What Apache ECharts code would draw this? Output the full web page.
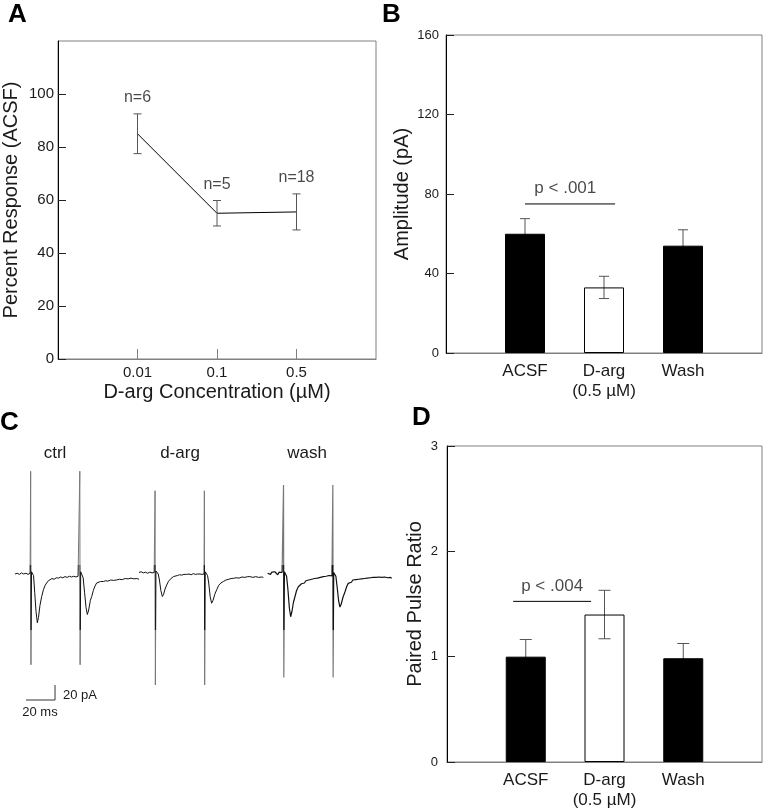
<!DOCTYPE html>
<html>
<head>
<meta charset="utf-8">
<script src="https://cdn.jsdelivr.net/npm/echarts@6/dist/echarts.min.js"></script>
<style>
  html, body { margin: 0; padding: 0; background: #fff; }
  #chart { width: 765px; height: 810px; }
</style>
</head>
<body>
<div id="chart"></div>
<script>
// ---------- Panel A: dose response ----------
const aConcLabels = ['0.01', '0.1', '0.5'];
const aPos = [1, 2, 3];
const aMean = [85, 55, 55.5];
const aErr = [7.5, 4.8, 6.8];
const aN = ['n=6', 'n=5', 'n=18'];
const aYTicks = [0, 20, 40, 60, 80, 100];

// ---------- Panel B: amplitude ----------
const condLabels = ['ACSF', 'D-arg\n(0.5 µM)', 'Wash'];
const condPos = [1, 2, 3];
const bMean = [60, 33, 54];
const bErr = [7.6, 5.6, 8];

// ---------- Panel D: paired pulse ratio ----------
const dMean = [1.0, 1.40, 0.985];
const dErr = [0.163, 0.23, 0.14];

// significance annotations [x1, x2, y]
const bSig = [1, 2.14, 75];
const dSig = [0.84, 1.83, 1.525];

// ---------- Panel C: example traces, [time ms, current pA] ----------
const traceCtrl = [[0,0],[1.5,1],[3,-0.5],[4.5,1.5],[6,0],[7.5,1],[9,-0.5],[10.4,1],
[10.8,137],[11.0,-121],[11.4,3],[12.2,4],[12.8,-2],[13.6,-25],[14.5,-50],[15.4,-65],[16.2,-58],[17.2,-42],[18.4,-30],[19.6,-21],[20.8,-15],[21.8,-12],[23,-9],[24.1,-8],[25.5,-6],[27,-7],[28.5,-5],[30,-5.5],[31.5,-4],[33,-5],[34.5,-3.5],[36,-4.5],[37.5,-3],[39,-4],[40.5,-3],[42,-4],[43.5,-3],[44.4,-3.5],
[44.7,137],[44.9,-121],[45.3,3],[46.2,4],[47,-5],[48,-25],[49,-45],[49.9,-54],[50.8,-48],[52,-35],[52.9,-30],[54,-22],[55.2,-16],[56.3,-12],[57.5,-12.5],[59,-10],[60.9,-10],[62.5,-9],[64,-9.5],[66,-8],[68,-8.5],[70,-8],[72,-7],[74,-7.5],[76,-6],[78,-6.5],[80,-5.5],[82,-6.5],[84,-6],[85.5,-7]];

const traceDarg = [[85.5,2],[87,3],[88.5,1.5],[90,2.5],[91.5,1],[93,2.5],[94.5,1.5],[96,2],[96.4,2],
[96.6,111],[96.8,-148],[97.2,4],[98,5],[98.8,0],[99.6,-8],[100.6,-22],[101.6,-30],[102.5,-27],[103.5,-20],[104.6,-14.7],[105.8,-10],[107,-7],[108.2,-5],[109.2,-3.5],[110.5,-2.5],[112,-2],[113.5,-1],[115,-1.5],[116.5,-0.5],[118.4,-0.5],[120,0],[121.5,-1],[123,0.5],[124.5,-0.5],[126,0],[127.6,0],[129,-0.5],[130.4,0],
[130.6,111],[130.8,-148],[131.2,3],[132,4],[132.8,-2],[133.6,-12],[134.6,-30],[135.6,-39],[136.6,-35],[137.8,-27],[139.1,-21],[140.5,-15],[142,-12],[143.7,-10],[145.5,-8],[147.5,-7],[149,-6],[150.6,-5.8],[152.5,-5],[154.5,-5.5],[156.5,-4],[158.5,-4.5],[160.5,-3.5],[162,-3.5],[164,-4.5],[166,-3.5],[168,-4.5],[170,-4],[171.3,-4.4]];

const traceWash = [[174.2,1],[175.2,3],[176.2,-0.5],[177.2,2.5],[178.2,0],[179.2,3],[180.2,1],[181.2,-1],[182.2,2.5],[183.2,0.5],[184.2,2],[185.0,0],
[185.2,118.7],[185.4,-138],[185.8,3],[186.6,4],[187.3,-3],[188.2,-20],[189.2,-45],[190.1,-57],[191,-50],[192,-38],[193.1,-30],[194.2,-22],[195.4,-17],[196.6,-14.7],[197.6,-13],[198.6,-11.5],[199.6,-12],[200.6,-9],[201.6,-11],[202.6,-8],[203.6,-10],[204.6,-7],[205.6,-9],[206.6,-6],[207.6,-8],[208.6,-5.5],[209.6,-7.5],[210.6,-4.5],[211.6,-6.5],[212.6,-3.5],[213.6,-5.5],[214.6,-3],[215.6,-5],[216.6,-2],[217.6,-4.5],[218.6,-2.5],[219.0,-3],
[219.2,118.7],[219.4,-138],[219.8,2],[220.6,3],[221.3,-3],[222.2,-18],[223.2,-36],[224.1,-44],[225,-40],[226.2,-31],[227.6,-23.6],[228.7,-17],[229.8,-12.5],[231,-10],[232,-11],[233,-8],[234,-10],[235,-7.5],[236,-9.5],[237,-7],[238,-9],[239,-6.5],[240,-8.5],[241,-6],[242,-8],[243,-5.5],[244,-7.5],[245,-5],[246,-7],[247,-4.5],[248,-6.5],[249,-4.5],[250,-7],[251,-4],[252,-6.5],[253,-4.5],[254,-7],[255,-4],[256,-6.5],[257,-5],[258,-7],[259,-4.5],[259.8,-5.8]];

// scale bar: 20 ms horizontal, 20 pA vertical
const scaleBar = [[7.6,-168],[27.6,-168],[27.6,-148]];

// ---------- helpers ----------
const FONT = "'Liberation Sans', Arial, Helvetica, sans-serif";
const TXT = '#1a1a1a';
const BOX = '#808080';

function errRender(cap, color) {
  return function (params, api) {
    const x = api.value(0), m = api.value(1), e = api.value(2);
    const t = api.coord([x, m + e]);
    const b = api.coord([x, m - e]);
    const st = { stroke: color, lineWidth: 1 };
    return {
      type: 'group',
      children: [
        { type: 'line', shape: { x1: t[0], y1: t[1], x2: b[0], y2: b[1] }, style: st },
        { type: 'line', shape: { x1: t[0] - cap, y1: t[1], x2: t[0] + cap, y2: t[1] }, style: st },
        { type: 'line', shape: { x1: b[0] - cap, y1: b[1], x2: b[0] + cap, y2: b[1] }, style: st }
      ]
    };
  };
}

function barData(means) {
  return means.map((v, i) => ({
    value: [condPos[i], v],
    itemStyle: i === 1
      ? { color: 'rgba(255,255,255,0)', borderColor: '#000', borderWidth: 1 }
      : { color: '#000', borderColor: '#000', borderWidth: 1 }
  }));
}

function yAxisBase(idx, min, max, interval, name, nameGap, labelSize, margin, hideTop) {
  return {
    gridIndex: idx, type: 'value', min: min, max: max, interval: interval,
    axisLine: { show: true, lineStyle: { color: '#000', width: 1 } },
    axisTick: { show: true, inside: true, length: 8, lineStyle: { color: '#222' } },
    axisLabel: {
      fontSize: labelSize, color: TXT, fontFamily: FONT, margin: margin,
      formatter: v => (hideTop && v === max) ? '' : String(v)
    },
    splitLine: { show: false },
    name: name, nameLocation: 'middle', nameGap: nameGap,
    nameTextStyle: { fontSize: 20, color: TXT, fontFamily: FONT }
  };
}

function condXAxis(idx) {
  return {
    gridIndex: idx, type: 'value', min: 0, max: 4,
    axisLine: { show: true, lineStyle: { color: BOX } },
    axisTick: { show: false },
    axisLabel: {
      customValues: condPos,
      formatter: v => condLabels[condPos.indexOf(v)] || '',
      fontSize: 17, lineHeight: 20, color: TXT, fontFamily: FONT, margin: 8
    },
    splitLine: { show: false }
  };
}

const chart = echarts.init(document.getElementById('chart'), null, { renderer: 'canvas' });

const yA = yAxisBase(0, 0, 120, 20, 'Percent Response (ACSF)', 37, 15, 4, true);
yA.axisTick.customValues = aYTicks;
yA.axisLabel.customValues = aYTicks;

const option = {
  backgroundColor: '#fff',
  animation: false,
  textStyle: { fontFamily: FONT },
  visualMap: {
    type: 'piecewise', show: false, dimension: 1, seriesIndex: [7, 8, 9],
    pieces: [
      { gt: 12, color: '#777' },
      { lt: -75, color: '#777' },
      { gte: -75, lte: 12, color: '#111' }
    ]
  },
  grid: [
    { left: 58, top: 41, width: 318, height: 318, show: true, borderColor: BOX, borderWidth: 1, backgroundColor: 'transparent' },
    { left: 446, top: 35, width: 316, height: 318, show: true, borderColor: BOX, borderWidth: 1, backgroundColor: 'transparent' },
    { left: 15, top: 461.5, width: 377, height: 262.5, show: false },
    { left: 447, top: 446, width: 315, height: 317, show: true, borderColor: BOX, borderWidth: 1, backgroundColor: 'transparent' }
  ],
  xAxis: [
    {
      gridIndex: 0, type: 'value', min: 0, max: 4,
      axisLine: { show: true, lineStyle: { color: BOX } },
      axisTick: { show: true, inside: true, length: 10, customValues: aPos, lineStyle: { color: BOX } },
      axisLabel: {
        customValues: aPos,
        formatter: v => aConcLabels[aPos.indexOf(v)] || '',
        fontSize: 15, color: TXT, fontFamily: FONT, margin: 6
      },
      splitLine: { show: false },
      name: 'D-arg Concentration (µM)', nameLocation: 'middle', nameGap: 23,
      nameTextStyle: { fontSize: 20, color: TXT, fontFamily: FONT }
    },
    condXAxis(1),
    { gridIndex: 2, type: 'value', min: 0, max: 260, show: false },
    condXAxis(3)
  ],
  yAxis: [
    yA,
    yAxisBase(1, 0, 160, 40, 'Amplitude (pA)', 34, 13, 7, false),
    { gridIndex: 2, type: 'value', min: -200, max: 150, show: false },
    yAxisBase(3, 0, 3, 1, 'Paired Pulse Ratio', 22, 13, 9, false)
  ],
  graphic: [
    { type: 'text', left: 8, top: 2, style: { text: 'A', fontSize: 26, fontWeight: 'bold', fill: '#000', fontFamily: FONT } },
    { type: 'text', left: 382, top: 2, style: { text: 'B', fontSize: 26, fontWeight: 'bold', fill: '#000', fontFamily: FONT } },
    { type: 'text', left: 0, top: 410, style: { text: 'C', fontSize: 26, fontWeight: 'bold', fill: '#000', fontFamily: FONT } },
    { type: 'text', left: 412, top: 405, style: { text: 'D', fontSize: 26, fontWeight: 'bold', fill: '#000', fontFamily: FONT } },
    { type: 'text', x: 55, y: 453, style: { text: 'ctrl', fontSize: 17, fill: TXT, fontFamily: FONT, align: 'center', verticalAlign: 'middle' } },
    { type: 'text', x: 180, y: 453, style: { text: 'd-arg', fontSize: 17, fill: TXT, fontFamily: FONT, align: 'center', verticalAlign: 'middle' } },
    { type: 'text', x: 307, y: 453, style: { text: 'wash', fontSize: 17, fill: TXT, fontFamily: FONT, align: 'center', verticalAlign: 'middle' } },
    { type: 'text', x: 63, y: 695, style: { text: '20 pA', fontSize: 13, fill: TXT, fontFamily: FONT, align: 'left', verticalAlign: 'middle' } },
    { type: 'text', x: 40, y: 712, style: { text: '20 ms', fontSize: 13, fill: TXT, fontFamily: FONT, align: 'center', verticalAlign: 'middle' } }
  ],
  series: [
    // Panel A (0-2)
    {
      type: 'line', xAxisIndex: 0, yAxisIndex: 0, symbol: 'none',
      data: aPos.map((x, i) => [x, aMean[i]]),
      lineStyle: { color: '#000', width: 1 }, z: 3
    },
    {
      type: 'custom', xAxisIndex: 0, yAxisIndex: 0,
      renderItem: errRender(4, '#555'),
      data: aPos.map((x, i) => [x, aMean[i], aErr[i]]), z: 4
    },
    {
      type: 'scatter', xAxisIndex: 0, yAxisIndex: 0, symbolSize: 0,
      data: aPos.map((x, i) => [x, aMean[i] + aErr[i]]),
      label: {
        show: true, position: 'top', distance: 8, fontSize: 16, color: TXT, fontFamily: FONT,
        formatter: p => aN[p.dataIndex]
      }
    },
    // Panel B (3-6)
    {
      type: 'custom', xAxisIndex: 1, yAxisIndex: 1,
      renderItem: errRender(5, '#555'),
      data: condPos.map((x, i) => [x, bMean[i], bErr[i]]), z: 1
    },
    {
      type: 'bar', xAxisIndex: 1, yAxisIndex: 1, barWidth: 40,
      data: barData(bMean), z: 3
    },
    {
      type: 'line', xAxisIndex: 1, yAxisIndex: 1, symbol: 'none',
      data: [[bSig[0], bSig[2]], [bSig[1], bSig[2]]],
      lineStyle: { color: '#000', width: 1 }
    },
    {
      type: 'scatter', xAxisIndex: 1, yAxisIndex: 1, symbolSize: 0,
      data: [[(bSig[0] + bSig[1]) / 2 - 0.06, bSig[2]]],
      label: { show: true, position: 'top', distance: 7, formatter: 'p < .001', fontSize: 17, color: TXT, fontFamily: FONT }
    },
    // Panel C (7-10)
    {
      type: 'line', xAxisIndex: 2, yAxisIndex: 2, symbol: 'none', data: traceCtrl,
      lineStyle: { width: 1 }
    },
    {
      type: 'line', xAxisIndex: 2, yAxisIndex: 2, symbol: 'none', data: traceDarg,
      lineStyle: { width: 1 }
    },
    {
      type: 'line', xAxisIndex: 2, yAxisIndex: 2, symbol: 'none', data: traceWash,
      lineStyle: { width: 1.2 }
    },
    {
      type: 'line', xAxisIndex: 2, yAxisIndex: 2, symbol: 'none', data: scaleBar,
      lineStyle: { color: '#333', width: 1 }
    },
    // Panel D (11-14)
    {
      type: 'custom', xAxisIndex: 3, yAxisIndex: 3,
      renderItem: errRender(6, '#555'),
      data: condPos.map((x, i) => [x, dMean[i], dErr[i]]), z: 1
    },
    {
      type: 'bar', xAxisIndex: 3, yAxisIndex: 3, barWidth: 40,
      data: barData(dMean), z: 3
    },
    {
      type: 'line', xAxisIndex: 3, yAxisIndex: 3, symbol: 'none',
      data: [[dSig[0], dSig[2]], [dSig[1], dSig[2]]],
      lineStyle: { color: '#000', width: 1 }
    },
    {
      type: 'scatter', xAxisIndex: 3, yAxisIndex: 3, symbolSize: 0,
      data: [[(dSig[0] + dSig[1]) / 2, dSig[2]]],
      label: { show: true, position: 'top', distance: 7, formatter: 'p < .004', fontSize: 17, color: TXT, fontFamily: FONT }
    }
  ]
};

chart.setOption(option);
</script>
</body>
</html>
